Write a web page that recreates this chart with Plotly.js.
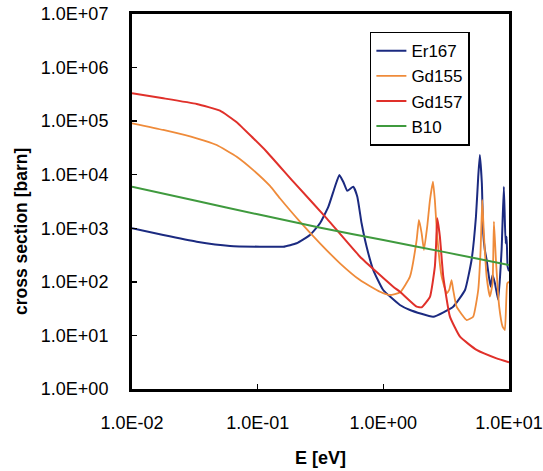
<!DOCTYPE html>
<html>
<head>
<meta charset="utf-8">
<script src="https://cdn.plot.ly/plotly-3.0.1.min.js"></script>
<style>html,body{margin:0;padding:0;background:#fff;}#chart{width:543px;height:471px;}</style>
</head>
<body>
<div id="chart"></div>
<script>
// ---- data ----
const er167E = [0.01, 0.01774, 0.03273, 0.0603, 0.1042, 0.160, 0.2042, 0.2606, 0.3133, 0.3648, 0.4121, 0.4467, 0.4797, 0.5164, 0.5768, 0.6209, 0.6714, 0.7362, 0.8318, 0.9977, 1.355, 1.629, 2.495, 3.597, 4.467, 5.035, 5.458, 5.689, 5.861, 6.081, 6.237, 6.427, 6.637, 6.918, 7.145, 7.396, 7.727, 8.204, 8.730, 9.099, 9.397, 9.572, 9.750, 10];
const er167S = [1000, 748, 562, 468, 453, 453, 525, 750, 1240, 2510, 5970, 9890, 7410, 5010, 5970, 3890, 1240, 453, 166, 70.5, 37.0, 29.9, 22.4, 34.4, 70.5, 256, 1640, 9180, 23400, 6920, 805, 393, 256, 125, 81.3, 134, 94.0, 45.8, 393, 5970, 525, 697, 192, 158];

const gd155E = [0.01, 0.01774, 0.03273, 0.0472, 0.0681, 0.0923, 0.1253, 0.1503, 0.2168, 0.3133, 0.4519, 0.652, 0.9397, 1.127, 1.355, 1.629, 1.841, 1.919, 2.018, 2.104, 2.234, 2.350, 2.483, 2.570, 2.685, 2.911, 3.192, 3.342, 3.491, 3.597, 3.828, 4.603, 5.188, 5.689, 5.943, 6.124, 6.310, 6.637, 7.047, 7.396, 7.586, 7.870, 8.356, 8.892, 9.268, 9.683, 10];
const gd155S = [91200, 68400, 47900, 35900, 21700, 12200, 6170, 3630, 1330, 525, 222, 108, 65.5, 56.9, 63.1, 125, 603, 1430, 805, 393, 1070, 3370, 7410, 3370, 697, 125, 61.1, 70.5, 108, 70.5, 34.4, 19.4, 22.4, 70.5, 393, 3370, 805, 125, 52.8, 94.0, 1330, 256, 34.4, 14.6, 12.6, 94.0, 100];

const gd157E = [0.01, 0.01774, 0.03273, 0.0501, 0.0681, 0.0923, 0.118, 0.192, 0.354, 0.652, 1.199, 1.355, 1.841, 2.018, 2.350, 2.570, 2.630, 2.685, 2.818, 2.999, 3.388, 4.074, 5.521, 7.962, 10];
const gd157S = [331000, 267000, 209000, 157000, 95500, 47900, 26900, 7410, 1535, 295, 81.3, 65.5, 34.4, 33.5, 52.5, 192, 501, 1535, 697, 125, 22.4, 9.46, 5.35, 3.73, 3.16];

const b10E = [0.01, 0.0316, 0.1, 0.316, 1, 3.16, 10];
const b10S = [5970, 3310, 1820, 1023, 603, 355, 207];

const xTickVals = [0.01, 0.1, 1, 10];
const xTickText = ['1.0E-02', '1.0E-01', '1.0E+00', '1.0E+01'];
const yTickVals = [1, 10, 100, 1000, 10000, 100000, 1000000, 10000000];
const yTickText = ['1.0E+00', '1.0E+01', '1.0E+02', '1.0E+03', '1.0E+04', '1.0E+05', '1.0E+06', '1.0E+07'];

const FONT = 'Liberation Sans, Arial, sans-serif';

function tr(name, x, y, color, w) {
  return {x: x, y: y, name: name, type: 'scatter', mode: 'lines',
          line: {color: color, width: w, shape: 'spline', smoothing: 0.4}};
}

const traces = [
  tr('Er167', er167E, er167S, '#1b2a80', 2),
  tr('Gd155', gd155E, gd155S, '#ef8b3a', 1.8),
  tr('Gd157', gd157E, gd157S, '#e0302a', 2),
  tr('B10', b10E, b10S, '#3f9a3e', 2)
];

const axisCommon = {
  showgrid: false, zeroline: false,
  showline: true, linecolor: '#000', linewidth: 3, mirror: true,
  ticks: 'inside', ticklen: 5, tickwidth: 1.5, tickcolor: '#000',
  tickfont: {family: FONT, size: 18, color: '#000'}
};

const layout = {
  width: 543, height: 471,
  margin: {l: 132, r: 34, t: 14, b: 82},
  paper_bgcolor: '#fff', plot_bgcolor: '#fff',
  showlegend: true,
  legend: {x: 0.631, y: 0.953, xanchor: 'left', yanchor: 'top',
           bgcolor: '#fff', bordercolor: '#000', borderwidth: 1.5,
           font: {family: FONT, size: 17, color: '#000'}, itemwidth: 30},
  xaxis: Object.assign({}, axisCommon, {
    type: 'log', range: [-2, 1],
    tickmode: 'array', tickvals: xTickVals, ticktext: xTickText,
    ticklabelstandoff: 15,
    title: {text: 'E [eV]', font: {family: FONT, size: 18, color: '#000', weight: 'bold'}, standoff: 20}
  }),
  yaxis: Object.assign({}, axisCommon, {
    type: 'log', range: [0, 7],
    tickmode: 'array', tickvals: yTickVals, ticktext: yTickText,
    ticklabelstandoff: 17
  }),
  annotations: [{
    text: '<b>cross section [barn]</b>', textangle: -90,
    xref: 'paper', yref: 'paper', x: -0.294, y: 0.419,
    xanchor: 'center', yanchor: 'middle', showarrow: false,
    font: {family: FONT, size: 17.5, color: '#000'}
  }]
};

Plotly.newPlot('chart', traces, layout, {displayModeBar: false, staticPlot: true});
</script>
</body>
</html>
